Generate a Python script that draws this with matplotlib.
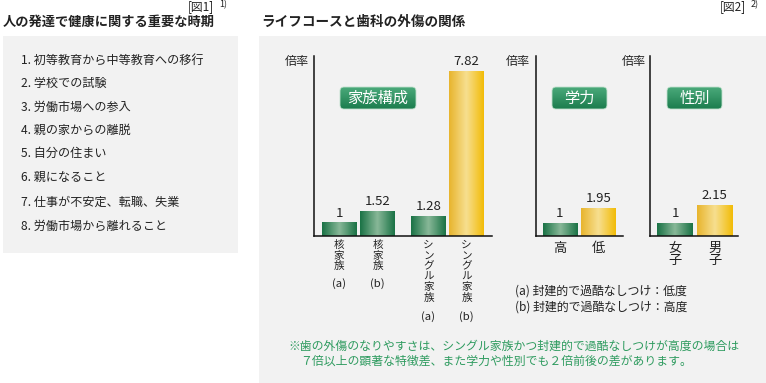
import numpy as np
import matplotlib
matplotlib.use("Agg")
import matplotlib.pyplot as plt
from matplotlib.patches import Rectangle, FancyBboxPatch
from matplotlib.colors import LinearSegmentedColormap

plt.rcParams['font.family'] = ['Noto Sans CJK JP', 'DejaVu Sans']

# ---------------- data ----------------
fig1_tag = "[図1]"
fig1_ref = "1)"
fig1_title = "人の発達で健康に関する重要な時期"
fig1_items = ["1. 初等教育から中等教育への移行", "2. 学校での試験", "3. 労働市場への参入",
              "4. 親の家からの離脱", "5. 自分の住まい", "6. 親になること",
              "7. 仕事が不安定、転職、失業", "8. 労働市場から離れること"]

fig2_tag = "[図2]"
fig2_ref = "2)"
fig2_title = "ライフコースと歯科の外傷の関係"
y_label = "倍率"

family_labels = ["核家族", "核家族", "シングル家族", "シングル家族"]
family_sub = ["(a)", "(b)", "(a)", "(b)"]
family_values = [1, 1.52, 1.28, 7.82]

ability_labels = ["高", "低"]
ability_values = [1, 1.95]

sex_labels = ["女子", "男子"]
sex_values = [1, 2.15]

panel_titles = ["家族構成", "学力", "性別"]
legend_lines = ["(a) 封建的で過酷なしつけ：低度", "(b) 封建的で過酷なしつけ：高度"]
note_lines = ["※歯の外傷のなりやすさは、シングル家族かつ封建的で過酷なしつけが高度の場合は",
              "７倍以上の顕著な特徴差、また学力や性別でも２倍前後の差があります。"]

# ---------------- styles ----------------
W, H = 766, 383
TXT = '#222222'
GRAY_BG = '#f2f2f2'
GREEN_GRAD = LinearSegmentedColormap.from_list('gg', ['#1b7346', '#88b898', '#1b7346'])
YELLOW_GRAD = LinearSegmentedColormap.from_list('yy', ['#e8b52e', '#f7df90', '#f2bc08'])
BOX_GRAD = LinearSegmentedColormap.from_list('bx', ['#4aa97a', '#1c7d4e'])
NOTE_GREEN = '#2e9b5f'

fig = plt.figure(figsize=(W / 100, H / 100), dpi=100)
fig.patch.set_facecolor('white')

bg = fig.add_axes([0, 0, 1, 1], zorder=0)
bg.axis('off')

bg.add_patch(Rectangle((3, 36), 235, 217, facecolor=GRAY_BG, edgecolor='none'))
bg.add_patch(Rectangle((259, 36), 507, 347, facecolor=GRAY_BG, edgecolor='none'))

# headers
bg.text(3, 22, fig1_title, fontsize=9.5, fontweight='bold', color=TXT, ha='left', va='center')
bg.text(214, 7, fig1_tag, fontsize=8.5, color=TXT, ha='right', va='center')
bg.text(219, 5, fig1_ref, fontsize=6.5, color=TXT, ha='left', va='center')
bg.text(261, 22, fig2_title, fontsize=9.8, fontweight='bold', color=TXT, ha='left', va='center')
bg.text(746, 7, fig2_tag, fontsize=8.5, color=TXT, ha='right', va='center')
bg.text(751, 5, fig2_ref, fontsize=6.5, color=TXT, ha='left', va='center')

# list
item_y = [60, 83, 107, 130, 153, 177, 202, 226]
for t, y in zip(fig1_items, item_y):
    bg.text(21, y, t, fontsize=8.7, color=TXT, ha='left', va='center')

# legend and note
for t, y in zip(legend_lines, [291, 307]):
    bg.text(515, y, t, fontsize=8.6, color=TXT, ha='left', va='center')
bg.text(288, 346, note_lines[0], fontsize=8.55, color=NOTE_GREEN, ha='left', va='center')
bg.text(300, 361, note_lines[1], fontsize=8.55, color=NOTE_GREEN, ha='left', va='center')

# y labels
for x in [297, 518, 634]:
    bg.text(x, 62, y_label, fontsize=8.7, color=TXT, ha='center', va='center')


def label_box(x0, x1, y0, y1, text):
    patch = FancyBboxPatch((x0, y0), x1 - x0, y1 - y0,
                           boxstyle='round,pad=0,rounding_size=4',
                           facecolor='none', edgecolor='#bfe0cc', lw=0.6, zorder=2)
    bg.add_patch(patch)
    g = np.linspace(0, 1, 32).reshape(-1, 1)
    im = bg.imshow(g, cmap=BOX_GRAD, extent=(x0, x1, y1, y0), origin='upper',
                   aspect='auto', zorder=1.5, interpolation='bilinear')
    im.set_clip_path(patch)
    bg.text((x0 + x1) / 2, (y0 + y1) / 2, text, color='white', fontsize=11,
            ha='center', va='center', zorder=3)


label_box(340, 416, 87, 109, panel_titles[0])
label_box(552, 607, 87, 109, panel_titles[1])
label_box(667, 722, 87, 109, panel_titles[2])

bg.set_xlim(0, W)
bg.set_ylim(H, 0)


def add_ax(left, right, top, bottom):
    ax = fig.add_axes([left / W, 1 - bottom / H, (right - left) / W, (bottom - top) / H], zorder=1)
    ax.patch.set_alpha(0)
    for s in ['top', 'right']:
        ax.spines[s].set_visible(False)
    for s in ['left', 'bottom']:
        ax.spines[s].set_color('#111111')
        ax.spines[s].set_linewidth(1.1)
        ax.spines[s].set_zorder(3)
    ax.set_yticks([])
    ax.tick_params(axis='x', length=0, pad=4, colors=TXT)
    return ax


def draw_bars(ax, pos, values, xlim, ylim):
    vmax = max(values)
    bars = ax.bar(pos, values, width=0.9, color='none', edgecolor='none', zorder=2)
    for b, v in zip(bars, values):
        cmap = YELLOW_GRAD if v == vmax else GREEN_GRAD
        g = np.linspace(0, 1, 64).reshape(1, -1)
        ax.imshow(g, cmap=cmap, extent=[b.get_x(), b.get_x() + b.get_width(), 0, v],
                  aspect='auto', origin='lower', zorder=2.1, interpolation='bilinear')
        ax.annotate(f"{v:g}", (b.get_x() + b.get_width() / 2, v), xytext=(0, 2.5),
                    textcoords='offset points', ha='center', va='bottom',
                    fontsize=9.5, color=TXT)
    ax.set_xlim(*xlim)
    ax.set_ylim(*ylim)


# family panel
ax1 = add_ax(314, 492, 56, 236)
pos1 = [0, 1, 2.32, 3.31]
draw_bars(ax1, pos1, family_values, (-0.65, 3.97), (0.413, 8.54))
ax1.set_xticks(pos1, ["\n".join(s) for s in family_labels], fontsize=7.6, linespacing=1.06)
ax1.tick_params(axis='x', pad=3)
for p, lab, sub in zip(pos1, family_labels, family_sub):
    off = (15 + 11 * len(lab)) * 72 / 100
    ax1.annotate(sub, (p, 0), xycoords=('data', 'axes fraction'), xytext=(0, -off),
                 textcoords='offset points', ha='center', va='center', fontsize=8.2, color=TXT)

# ability panel
ax2 = add_ax(536, 623, 56, 236)
pos2 = [0, 1]
draw_bars(ax2, pos2, ability_values, (-0.62, 1.64), (0.17, 11.67))
ax2.set_xticks(pos2, ability_labels, fontsize=9.5)

# sex panel
ax3 = add_ax(650, 738, 56, 236)
pos3 = [0, 1]
draw_bars(ax3, pos3, sex_values, (-0.63, 1.59), (0.17, 11.67))
ax3.set_xticks(pos3, ["\n".join(s) for s in sex_labels], fontsize=9.5, linespacing=0.9)

fig.savefig("out.png", dpi=100, facecolor='white')
